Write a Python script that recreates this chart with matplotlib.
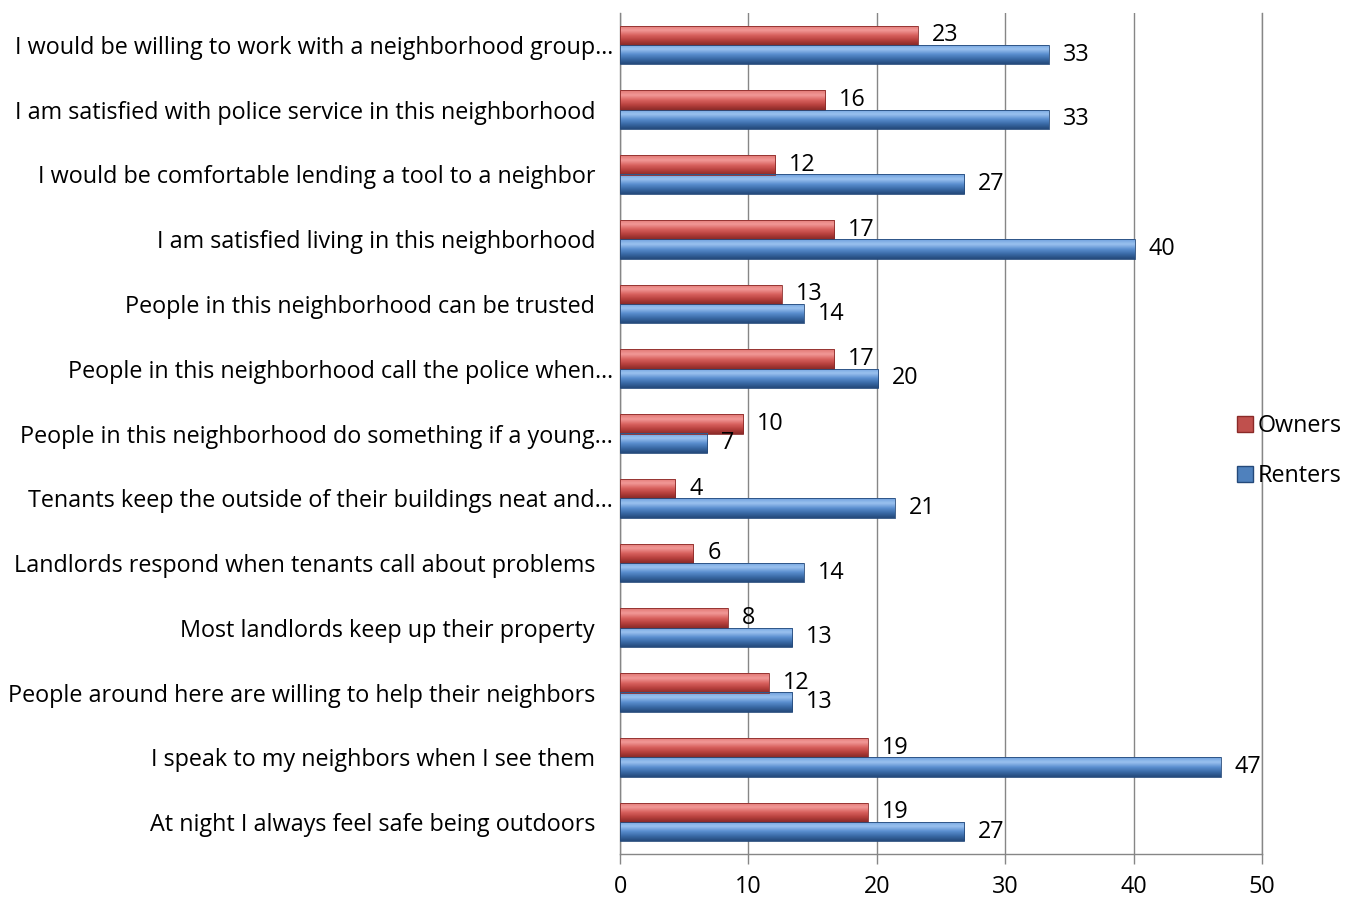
import numpy as np
import matplotlib
matplotlib.use("Agg")
import matplotlib.pyplot as plt
import matplotlib.transforms as mtransforms
from matplotlib.colors import LinearSegmentedColormap
from matplotlib.patches import Patch

categories = [
    "I would be willing to work with a neighborhood group…",
    "I am satisfied with police service in this neighborhood",
    "I would be comfortable lending a tool to a neighbor",
    "I am satisfied living in this neighborhood",
    "People in this neighborhood can be trusted",
    "People in this neighborhood call the police when…",
    "People in this neighborhood do something if a young…",
    "Tenants keep the outside of their buildings neat and…",
    "Landlords respond when tenants call about problems",
    "Most landlords keep up their property",
    "People around here are willing to help their neighbors",
    "I speak to my neighbors when I see them",
    "At night I always feel safe being outdoors",
]
owners = [23.2, 16.0, 12.1, 16.7, 12.6, 16.7, 9.6, 4.3, 5.7, 8.4, 11.6, 19.3, 19.3]
renters = [33.4, 33.4, 26.8, 40.1, 14.3, 20.1, 6.8, 21.4, 14.3, 13.4, 13.4, 46.8, 26.8]
series_names = ["Owners", "Renters"]
xticks = [0, 10, 20, 30, 40, 50]

plt.rcParams['font.family'] = ['Open Sans', 'DejaVu Sans']
FS = 16.8

fig = plt.figure(figsize=(13.58, 9.01), dpi=100)
ax = fig.add_axes([0.4566, 0.0517, 0.9293 - 0.4566, 0.986 - 0.0517])

y = np.arange(len(categories))
bh = 0.30
off = 0.148

red_cmap = LinearSegmentedColormap.from_list("r", ["#8a2a28", "#b8413e", "#d9625f", "#f29a98", "#e07572"])
blue_cmap = LinearSegmentedColormap.from_list("b", ["#24497a", "#3a6aa6", "#5b8fd0", "#9cc3f0", "#6d9fdc"])

def gradient_bars(bars, cmap):
    for b in bars:
        x0, y0 = b.get_x(), b.get_y()
        w, h = b.get_width(), b.get_height()
        grad = np.linspace(0, 1, 64).reshape(-1, 1)
        im = ax.imshow(grad[::-1], cmap=cmap, aspect='auto',
                       extent=[x0, x0 + w, y0 + h, y0], zorder=3,
                       interpolation='bicubic')
        im.set_clip_path(b)
        b.set_facecolor('none')

bo = ax.barh(y - off, owners, height=bh, color="#c0504d", edgecolor="#8a2a28",
             linewidth=0.6, zorder=4)
br = ax.barh(y + off, renters, height=bh, color="#4f81bd", edgecolor="#24497a",
             linewidth=0.6, zorder=4)
gradient_bars(bo, red_cmap)
gradient_bars(br, blue_cmap)

for v, yy in zip(owners, y - off):
    ax.annotate(f"{round(v)}", (v, yy), xytext=(10, 0), textcoords='offset points',
                ha='left', va='center', fontsize=FS, color='black', zorder=6)
for v, yy in zip(renters, y + off):
    ax.annotate(f"{round(v)}", (v, yy), xytext=(10, 0), textcoords='offset points',
                ha='left', va='center', fontsize=FS, color='black', zorder=6)

ax.set_xlim(0, 50)
ax.set_ylim(len(categories) - 0.5, -0.5)
ax.set_xticks(xticks)
ax.set_xticklabels([str(t) for t in xticks], fontsize=FS)
ax.set_yticks(y)
ax.set_yticklabels(categories, fontsize=FS)
ax.tick_params(axis='y', length=0, pad=5)
ax.tick_params(axis='x', length=7, color='#868686', width=1, pad=8)
# labels without an ellipsis keep the trailing gap seen in the original
shift = mtransforms.ScaledTranslation(-18 / 100, 0, fig.dpi_scale_trans)
for lbl in ax.get_yticklabels():
    if not lbl.get_text().endswith("…"):
        lbl.set_transform(lbl.get_transform() + shift)
ax.xaxis.grid(True, color='#868686', linewidth=1)
ax.set_axisbelow(True)
ax.spines['top'].set_visible(False)
for s in ['left', 'bottom', 'right']:
    ax.spines[s].set_color('#868686')
    ax.spines[s].set_linewidth(1)

handles = [Patch(facecolor="#c0504d", edgecolor="#8a2a28"),
           Patch(facecolor="#4f81bd", edgecolor="#24497a")]
leg = fig.legend(handles, series_names, loc='center left',
                 bbox_to_anchor=(1237 / 1358, 1 - 451 / 901), frameon=False,
                 fontsize=FS, handlelength=0.7, handleheight=0.7,
                 handletextpad=0.2, labelspacing=1.1, borderpad=0, borderaxespad=0)

fig.savefig("out.png", dpi=100)
